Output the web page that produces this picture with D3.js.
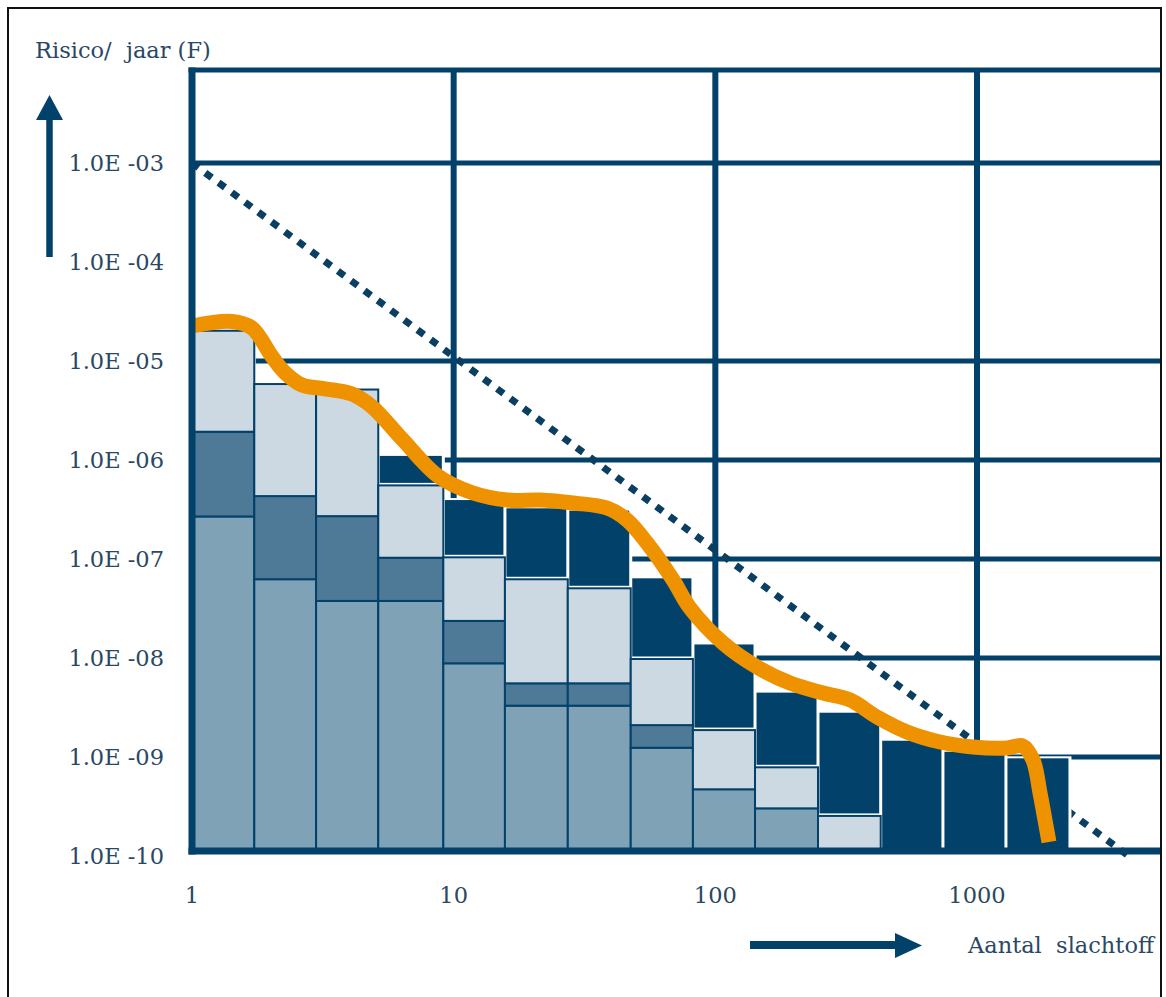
<!DOCTYPE html>
<html>
<head>
<meta charset="utf-8">
<script src="https://cdn.jsdelivr.net/npm/d3@7/dist/d3.min.js"></script>
<style>
  html, body { margin: 0; padding: 0; background: #fff; }
  svg { display: block; }
</style>
</head>
<body>
<svg id="chart" width="1166" height="997"></svg>
<script>
// ---------------- DATA ----------------
// bin edges (number of victims N) for the 14 bars
const binEdges = [1, 1.73, 2.98, 5.15, 9.13, 15.7, 27.3, 47.5, 82.1, 141.8, 246.8, 428.5, 741, 1290, 2266];
// cumulative upper boundaries of each stacked segment (risk per year, log stacked from 1e-10)
const baseValue = 1e-10;
const bottomTop = [2.69e-7, 6.25e-8, 3.77e-8, 3.77e-8, 8.84e-9, 3.30e-9, 3.30e-9, 1.24e-9, 4.72e-10, 3.03e-10, 1e-10, 1e-10, 1e-10, 1e-10];
const midTop    = [1.93e-6, 4.32e-7, 2.71e-7, 1.03e-7, 2.37e-8, 5.55e-9, 5.55e-9, 2.10e-9, 4.72e-10, 3.03e-10, 1e-10, 1e-10, 1e-10, 1e-10];
const lightTop  = [2.02e-5, 5.85e-6, 5.15e-6, 5.54e-7, 1.04e-7, 6.24e-8, 5.06e-8, 9.77e-9, 1.87e-9, 7.87e-10, 2.54e-10, 1e-10, 1e-10, 1e-10];
const darkTop   = [2.02e-5, 5.85e-6, 5.15e-6, 1.10e-6, 3.94e-7, 3.25e-7, 3.08e-7, 6.38e-8, 1.37e-8, 4.47e-9, 2.80e-9, 1.46e-9, 1.13e-9, 9.7e-10];

// orange FN curve [N, F]
const curveN = [1, 1.422, 1.696, 2.021, 2.267, 2.633, 3.224, 4.088, 4.875, 6.346, 8.71, 11.86, 15.99, 21.38, 28.58, 38.55, 45.96, 54.8, 68.9, 80.0, 107, 144.3, 192.9, 257.9, 327.1, 414.8, 540.1, 722.1, 965.4, 1302, 1498, 1637, 1741, 1819, 1884];
const curveF = [2.257e-5, 2.506e-5, 2.154e-5, 1.108e-5, 7.62e-6, 5.72e-6, 5.24e-6, 4.64e-6, 3.455e-6, 1.633e-6, 6.89e-7, 4.64e-7, 3.94e-7, 3.94e-7, 3.68e-7, 3.27e-7, 2.477e-7, 1.451e-7, 6.14e-8, 3.20e-8, 1.417e-8, 8.11e-9, 5.59e-9, 4.43e-9, 3.77e-9, 2.535e-9, 1.789e-9, 1.417e-9, 1.262e-9, 1.233e-9, 1.291e-9, 9.33e-10, 4.33e-10, 2.31e-10, 1.385e-10];

// dotted norm line [N, F]
const normN = [1, 3800];
const normF = [1e-3, 1e-10];

// axis ticks
const yTickValues = [1e-3, 1e-4, 1e-5, 1e-6, 1e-7, 1e-8, 1e-9, 1e-10];
const yTickLabels = ["1.0E -03", "1.0E -04", "1.0E -05", "1.0E -06", "1.0E -07", "1.0E -08", "1.0E -09", "1.0E -10"];
const yGridValues = [1e-3, 1e-5, 1e-6, 1e-7, 1e-8, 1e-9];
const xTickValues = [1, 10, 100, 1000];
const xTickLabels = ["1", "10", "100", "1000"];
const xGridValues = [10, 100, 1000];
const yTitle = "Risico/\u00a0 jaar (F)";
const xTitle = "Aantal\u00a0 slachtoff";

// ---------------- LAYOUT ----------------
const NAVY = "#02416a", TXT = "#2a4864";
const C_BOTTOM = "#80a2b6", C_MID = "#4e7a97", C_LIGHT = "#cdd9e2", C_DARK = "#02416a";
const ORANGE = "#ef9200";
const plotL = 192, plotR = 1160, plotT = 70, plotB = 851;

const x = d3.scaleLog().domain([1, 1000]).range([192, 977]);
const y = d3.scaleLog().domain([1e-10, 1e-3]).range([856, 163]);

const svg = d3.select("#chart");
svg.append("rect").attr("width", 1166).attr("height", 997).attr("fill", "#fff");

const defs = svg.append("defs");
defs.append("clipPath").attr("id", "plotClip").append("rect")
  .attr("x", plotL).attr("y", plotT).attr("width", plotR - plotL).attr("height", plotB - plotT);
defs.append("clipPath").attr("id", "frameClip").append("rect")
  .attr("x", 0).attr("y", 0).attr("width", 1160).attr("height", 997);

const root = svg.append("g").attr("clip-path", "url(#frameClip)");

// grid lines
const grid = root.append("g");
grid.selectAll("line.h").data(yGridValues).join("line")
  .attr("x1", plotL).attr("x2", plotR)
  .attr("y1", d => y(d)).attr("y2", d => y(d))
  .attr("stroke", NAVY).attr("stroke-width", 5);
grid.selectAll("line.v").data(xGridValues).join("line")
  .attr("x1", d => x(d)).attr("x2", d => x(d))
  .attr("y1", plotT).attr("y2", plotB)
  .attr("stroke", NAVY).attr("stroke-width", 6);

// dotted norm line
const normPts = normN.map((n, i) => [n, normF[i]]);
root.append("path")
  .attr("d", d3.line().x(d => x(d[0])).y(d => y(d[1]))(normPts))
  .attr("fill", "none").attr("stroke", "#0a3f62").attr("stroke-width", 7)
  .attr("stroke-dasharray", "8 8.5");

// bars
const bars = root.append("g").attr("clip-path", "url(#plotClip)");
const barData = binEdges.slice(0, -1).map((e, i) => ({
  x0: e, x1: binEdges[i + 1],
  segs: [
    { lo: baseValue, hi: bottomTop[i], c: C_BOTTOM, dark: false },
    { lo: bottomTop[i], hi: midTop[i], c: C_MID, dark: false },
    { lo: midTop[i], hi: lightTop[i], c: C_LIGHT, dark: false },
    { lo: lightTop[i], hi: darkTop[i], c: C_DARK, dark: true }
  ].filter(s => s.hi > s.lo * 1.0001),
  top: darkTop[i]
}));

// white halos
bars.selectAll("rect.halo").data(barData).join("rect")
  .attr("x", d => x(d.x0) - 1.5).attr("width", d => x(d.x1) - x(d.x0) + 3)
  .attr("y", d => y(d.top) - 2).attr("height", d => y(baseValue) - y(d.top) + 2)
  .attr("fill", "#fff");

barData.forEach(b => {
  const x0 = x(b.x0), x1 = x(b.x1);
  b.segs.forEach(s => {
    const yt = y(s.hi), yb = y(s.lo);
    if (s.dark) {
      const below = s.lo > baseValue * 1.0001;
      bars.append("rect")
        .attr("x", x0 + 1.5).attr("width", x1 - x0 - 3)
        .attr("y", yt).attr("height", Math.max(0, (yb - (below ? 2.5 : 0)) - yt))
        .attr("fill", s.c);
    } else {
      bars.append("rect")
        .attr("x", x0).attr("width", x1 - x0)
        .attr("y", yt).attr("height", yb - yt)
        .attr("fill", s.c).attr("stroke", NAVY).attr("stroke-width", 2);
    }
  });
});

// orange curve
const curvePts = curveN.map((n, i) => [n, curveF[i]]);
root.append("path")
  .attr("d", d3.line().x(d => x(d[0])).y(d => y(d[1])).curve(d3.curveCatmullRom.alpha(0.5))(curvePts))
  .attr("fill", "none").attr("stroke", ORANGE).attr("stroke-width", 15)
  .attr("stroke-linecap", "butt").attr("stroke-linejoin", "round");

// frame / axes
root.append("line").attr("x1", plotL - 3.5).attr("x2", plotR).attr("y1", plotT).attr("y2", plotT)
  .attr("stroke", NAVY).attr("stroke-width", 5);
root.append("line").attr("x1", plotL).attr("x2", plotL).attr("y1", plotT - 2.5).attr("y2", plotB + 3.5)
  .attr("stroke", NAVY).attr("stroke-width", 7);
root.append("line").attr("x1", plotL - 3.5).attr("x2", plotR).attr("y1", plotB).attr("y2", plotB)
  .attr("stroke", NAVY).attr("stroke-width", 7);

// tick labels
const font = "'DejaVu Serif', serif";
const fs = 22.5;
root.append("g").selectAll("text").data(yTickValues).join("text")
  .attr("x", 164).attr("y", d => y(d))
  .attr("text-anchor", "end").attr("dominant-baseline", "central")
  .attr("font-family", font).attr("font-size", fs).attr("fill", TXT)
  .text((d, i) => yTickLabels[i]);
root.append("g").selectAll("text").data(xTickValues).join("text")
  .attr("x", d => x(d)).attr("y", 895)
  .attr("text-anchor", "middle").attr("dominant-baseline", "central")
  .attr("font-family", font).attr("font-size", fs).attr("fill", TXT)
  .text((d, i) => xTickLabels[i]);

// titles
root.append("text").attr("x", 35).attr("y", 50).attr("dominant-baseline", "central")
  .attr("font-family", font).attr("font-size", fs).attr("fill", TXT).text(yTitle);
root.append("text").attr("x", 968).attr("y", 945).attr("dominant-baseline", "central")
  .attr("font-family", font).attr("font-size", fs).attr("fill", TXT).text(xTitle);

// arrows
root.append("line").attr("x1", 49.5).attr("x2", 49.5).attr("y1", 257).attr("y2", 116)
  .attr("stroke", NAVY).attr("stroke-width", 6.5);
root.append("path").attr("d", "M36,120 L63,120 L49.5,95 Z").attr("fill", NAVY);
root.append("line").attr("x1", 750).attr("x2", 898).attr("y1", 945).attr("y2", 945)
  .attr("stroke", NAVY).attr("stroke-width", 8);
root.append("path").attr("d", "M895,933 L895,958 L922,945.5 Z").attr("fill", NAVY);

// outer border
svg.append("rect").attr("x", 8).attr("y", 8).attr("width", 1153).attr("height", 1010)
  .attr("fill", "none").attr("stroke", "#111").attr("stroke-width", 2);
</script>
</body>
</html>
